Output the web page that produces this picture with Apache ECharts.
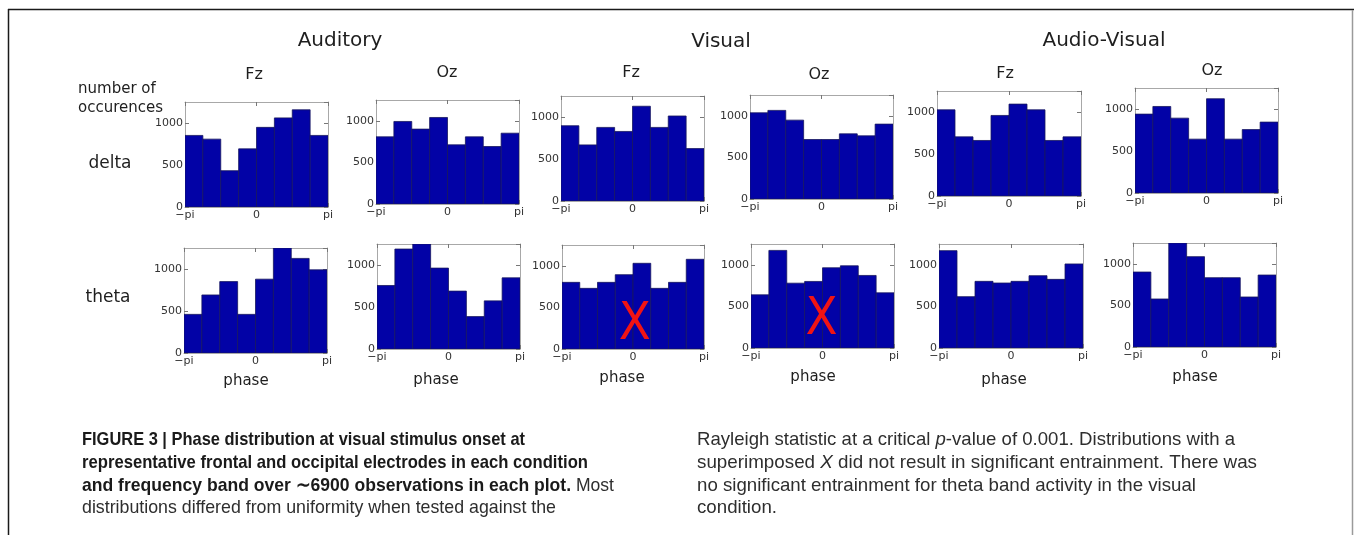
<!DOCTYPE html>
<html>
<head>
<meta charset="utf-8">
<title>Phase distribution at visual stimulus onset</title>
<script src="https://cdn.jsdelivr.net/npm/echarts@6/dist/echarts.min.js"></script>
<style>
  html, body { margin: 0; padding: 0; background: #fff; }
  #chart { width: 1354px; height: 535px; }
</style>
</head>
<body>
<div id="chart"></div>
<script>
// Phase histograms: 8 bins spanning -pi..pi, counts per bin.
const conditions = ['Auditory', 'Visual', 'Audio-Visual'];
const electrodes = ['Fz', 'Oz'];
const bands = ['delta', 'theta'];
const phaseTickLabels = ['\u2212pi', '0', 'pi'];
const countTicks = [0, 500, 1000];

const deltaAuditoryFz     = [852, 808, 432, 692, 948, 1061, 1157, 852];
const deltaAuditoryOz     = [807, 992, 900, 1040, 711, 807, 691, 851];
const deltaVisualFz       = [896, 668, 876, 828, 1128, 876, 1012, 624];
const deltaVisualOz       = [1036, 1065, 948, 715, 715, 783, 759, 900];
const deltaAudioVisualFz  = [1026, 704, 661, 959, 1094, 1026, 661, 704];
const deltaAudioVisualOz  = [939, 1030, 891, 641, 1122, 641, 755, 844];

const thetaAuditoryFz     = [460, 691, 850, 460, 879, 1250, 1126, 990];
const thetaAuditoryOz     = [756, 1190, 1250, 963, 689, 386, 573, 847];
const thetaVisualFz       = [801, 729, 801, 893, 1030, 729, 801, 1078];
const thetaVisualOz       = [639, 1173, 779, 800, 964, 988, 872, 663];
const thetaAudioVisualFz  = [1170, 617, 801, 781, 801, 869, 825, 1010];
const thetaAudioVisualOz  = [901, 577, 1250, 1086, 833, 833, 601, 865];

// Panels without significant entrainment get a red X (phase bin units, count).
const notSignificantVisualFz = [0.1, 285];
const notSignificantVisualOz = [-0.05, 325];

const panels = [
  { band: 'delta', cond: 'Auditory',     el: 'Fz', counts: deltaAuditoryFz },
  { band: 'delta', cond: 'Auditory',     el: 'Oz', counts: deltaAuditoryOz },
  { band: 'delta', cond: 'Visual',       el: 'Fz', counts: deltaVisualFz },
  { band: 'delta', cond: 'Visual',       el: 'Oz', counts: deltaVisualOz },
  { band: 'delta', cond: 'Audio-Visual', el: 'Fz', counts: deltaAudioVisualFz },
  { band: 'delta', cond: 'Audio-Visual', el: 'Oz', counts: deltaAudioVisualOz },
  { band: 'theta', cond: 'Auditory',     el: 'Fz', counts: thetaAuditoryFz },
  { band: 'theta', cond: 'Auditory',     el: 'Oz', counts: thetaAuditoryOz },
  { band: 'theta', cond: 'Visual',       el: 'Fz', counts: thetaVisualFz, mark: notSignificantVisualFz },
  { band: 'theta', cond: 'Visual',       el: 'Oz', counts: thetaVisualOz, mark: notSignificantVisualOz },
  { band: 'theta', cond: 'Audio-Visual', el: 'Fz', counts: thetaAudioVisualFz },
  { band: 'theta', cond: 'Audio-Visual', el: 'Oz', counts: thetaAudioVisualOz }
];

// Plot-area boxes [left, top, right, bottom] in pixels.
const boxes = [
  [185, 102, 328, 207], [376, 100, 519, 204], [561, 96, 704, 201],
  [750, 95, 893, 199], [937, 91, 1081, 196], [1135, 88, 1278, 193],
  [184, 248, 327, 353], [377, 244, 520, 349], [562, 245, 704, 349],
  [751, 244, 894, 348], [939, 244, 1083, 348], [1133, 243, 1276, 347]
];
// Electrode headings over the top row, phase labels under the bottom row.
const electrodeTitlePos = [[254, 75], [447, 73], [631, 73], [819, 75], [1005, 74], [1212, 71]];
const phaseLabelPos = [[246, 381], [436, 380], [622, 378], [813, 377], [1004, 380], [1195, 377]];
const conditionTitlePos = [[340, 41], [721, 42], [1104, 41]];

const FONT = '"DejaVu Sans", Verdana, sans-serif';
const BAR_FILL = '#0202a6';
const BAR_EDGE = '#16165e';
const FRAME = '#a8a8a8';
const NBINS = 8;

function phaseLabel(v) {
  if (v < 0) return phaseTickLabels[0];
  if (v > 0) return phaseTickLabels[2];
  return phaseTickLabels[1];
}
function countLabel(v) {
  return countTicks.indexOf(v) >= 0 ? String(v) : '';
}

const grid = [], xAxis = [], yAxis = [], series = [];
panels.forEach((p, i) => {
  const b = boxes[i];
  grid.push({ left: b[0], top: b[1], width: b[2] - b[0], height: b[3] - b[1], containLabel: false });
  const tick = { show: true, inside: true, length: 4, lineStyle: { color: '#777', width: 1 } };
  const line = { show: true, onZero: false, lineStyle: { color: FRAME, width: 1 } };
  // bottom phase axis (bin units, -4..4 == -pi..pi)
  xAxis.push({
    type: 'value', gridIndex: i, min: -NBINS / 2, max: NBINS / 2, interval: NBINS / 2,
    position: 'bottom', splitLine: { show: false }, axisLine: line, axisTick: tick,
    axisLabel: { show: true, margin: 3, fontSize: 11, color: '#333', fontFamily: FONT,
      formatter: phaseLabel, showMinLabel: true, showMaxLabel: true }
  });
  // mirrored top axis (ticks only)
  xAxis.push({
    type: 'value', gridIndex: i, min: -NBINS / 2, max: NBINS / 2, interval: NBINS / 2,
    position: 'top', splitLine: { show: false }, axisLine: line, axisTick: tick,
    axisLabel: { show: false }
  });
  yAxis.push({
    type: 'value', gridIndex: i, min: 0, max: 1250, interval: 500,
    position: 'left', splitLine: { show: false }, axisLine: line, axisTick: tick,
    axisLabel: { show: true, margin: 2, fontSize: 11, color: '#333', fontFamily: FONT,
      formatter: countLabel, showMaxLabel: false }
  });
  yAxis.push({
    type: 'value', gridIndex: i, min: 0, max: 1250, interval: 500,
    position: 'right', splitLine: { show: false }, axisLine: line, axisTick: tick,
    axisLabel: { show: false }
  });

  const data = p.counts.map((c, k) => [k - NBINS / 2, k - NBINS / 2 + 1, c]);
  series.push({
    type: 'custom', name: p.band + ' ' + p.cond + ' ' + p.el,
    xAxisIndex: 2 * i, yAxisIndex: 2 * i,
    encode: { x: [0, 1], y: 2 },
    clip: true,
    silent: true,
    data: data,
    renderItem: function (params, api) {
      const top = api.coord([api.value(0), api.value(2)]);
      const base = api.coord([api.value(1), 0]);
      return {
        type: 'rect',
        shape: { x: top[0], y: top[1], width: base[0] - top[0], height: base[1] - top[1] },
        style: { fill: BAR_FILL, stroke: BAR_EDGE, lineWidth: 0.8 }
      };
    }
  });

  if (p.mark) {
    series.push({
      type: 'scatter', xAxisIndex: 2 * i, yAxisIndex: 2 * i, silent: true,
      symbol: 'circle', symbolSize: 0, itemStyle: { color: 'rgba(0,0,0,0)' }, z: 5,
      data: [p.mark],
      label: { show: true, position: 'inside', formatter: 'X', color: '#f01414', opacity: 1,
        fontSize: 52, fontFamily: '"DejaVu Sans Condensed", "DejaVu Sans", sans-serif' }
    });
  }
});

const graphic = [];
function text(x, y, str, size, opts) {
  graphic.push({
    type: 'text', x: x, y: y, silent: true,
    style: Object.assign({ text: str, fontSize: size, fontFamily: FONT, fill: '#1e1e1e',
      textAlign: 'center', textVerticalAlign: 'middle' }, opts || {})
  });
}
conditions.forEach((c, k) => text(conditionTitlePos[k][0], conditionTitlePos[k][1], c, 20));
electrodeTitlePos.forEach((pos, k) => text(pos[0], pos[1], electrodes[k % 2], 16));
phaseLabelPos.forEach(pos => text(pos[0], pos[1], 'phase', 15));
text(78, 89, 'number of', 15, { textAlign: 'left' });
text(78, 108, 'occurences', 15, { textAlign: 'left' });
text(110, 164, bands[0], 17);
text(108, 298, bands[1], 17);

// Figure frame
graphic.push({ type: 'line', silent: true, shape: { x1: 8, y1: 9.5, x2: 1354, y2: 9.5 }, style: { stroke: '#1a1a1a', lineWidth: 1.5 } });
graphic.push({ type: 'line', silent: true, shape: { x1: 8.5, y1: 9, x2: 8.5, y2: 535 }, style: { stroke: '#1a1a1a', lineWidth: 1.5 } });
graphic.push({ type: 'line', silent: true, shape: { x1: 1352.5, y1: 10, x2: 1352.5, y2: 535 }, style: { stroke: '#9a9a9a', lineWidth: 1.5 } });

// Caption: condensed look obtained by squeezing each line to its column width.
const CAP_FONT = '"Liberation Sans", Arial, sans-serif';
const CAP_SIZE = 19;
const capStyles = {
  b: { fontWeight: 'bold', fontStyle: 'normal', fill: '#1a1a1a' },
  n: { fontWeight: 'normal', fontStyle: 'normal', fill: '#2e2e2e' },
  i: { fontWeight: 'normal', fontStyle: 'italic', fill: '#2e2e2e' }
};
const capRich = {};
Object.keys(capStyles).forEach(k => {
  capRich[k] = Object.assign({ fontSize: CAP_SIZE, fontFamily: CAP_FONT }, capStyles[k]);
});
const captionLeft = [
  [['b', 'FIGURE 3 | Phase distribution at visual stimulus onset at']],
  [['b', 'representative frontal and occipital electrodes in each condition']],
  [['b', 'and frequency band over \u223c6900 observations in each plot.'], ['n', ' Most']],
  [['n', 'distributions differed from uniformity when tested against the']]
];
const captionRight = [
  [['n', 'Rayleigh statistic at a critical '], ['i', 'p'], ['n', '-value of 0.001. Distributions with a']],
  [['n', 'superimposed '], ['i', 'X'], ['n', ' did not result in significant entrainment. There was']],
  [['n', 'no significant entrainment for theta band activity in the visual']],
  [['n', 'condition.']]
];
const capY = [440, 463, 485.5, 508];
const capLeftX = 82, capRightX = 697;
const capLeftEnds = [525, 588, 614, 556];
const capRightEnds = [1235, 1257, 1196, 777];

const measureCtx = document.createElement('canvas').getContext('2d');
function lineWidth(segs) {
  return segs.reduce((w, s) => {
    const st = capStyles[s[0]];
    measureCtx.font = st.fontStyle + ' ' + st.fontWeight + ' ' + CAP_SIZE + 'px ' + CAP_FONT;
    return w + measureCtx.measureText(s[1]).width;
  }, 0);
}
function addCaption(lines, x0, ends) {
  lines.forEach((segs, k) => {
    const str = segs.map(s => '{' + s[0] + '|' + s[1] + '}').join('');
    const sx = (ends[k] - x0) / lineWidth(segs);
    graphic.push({ type: 'text', x: x0, y: capY[k], scaleX: sx, silent: true,
      style: { text: str, rich: capRich, textAlign: 'left', textVerticalAlign: 'middle' } });
  });
}
addCaption(captionLeft, capLeftX, capLeftEnds);
addCaption(captionRight, capRightX, capRightEnds);

const chart = echarts.init(document.getElementById('chart'), null, { renderer: 'canvas' });
chart.setOption({
  backgroundColor: '#ffffff',
  animation: false,
  grid: grid,
  xAxis: xAxis,
  yAxis: yAxis,
  series: series,
  graphic: graphic
});
</script>
</body>
</html>
